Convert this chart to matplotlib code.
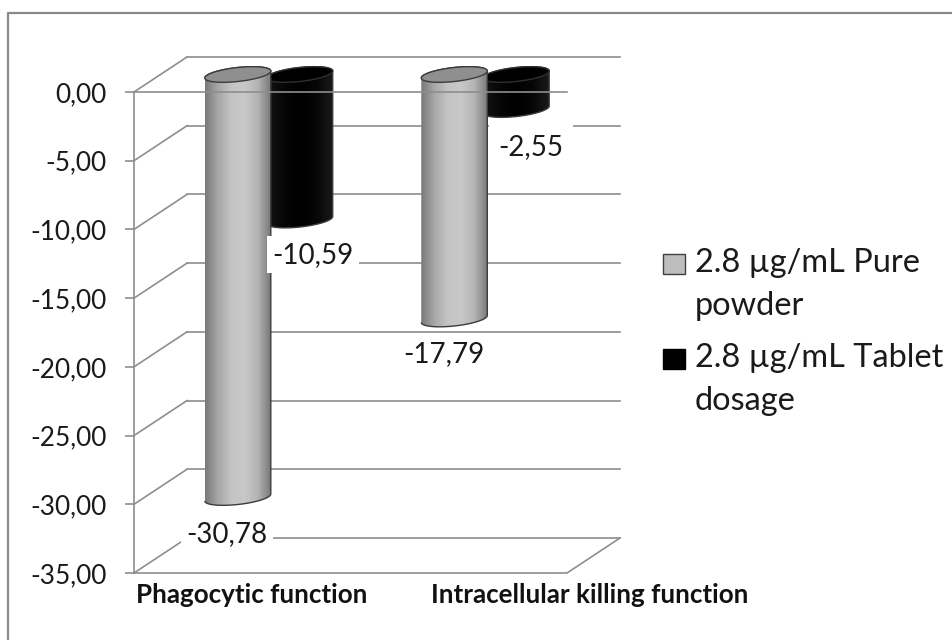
"""Cylinder column chart: change in phagocytic and killing function."""

import numpy as np
import matplotlib
matplotlib.use("Agg")
import matplotlib.pyplot as plt
from matplotlib.colors import LinearSegmentedColormap
from matplotlib.legend_handler import HandlerPatch
from matplotlib.lines import Line2D
from matplotlib.patches import Patch, PathPatch, Rectangle
from matplotlib.path import Path
from matplotlib.ticker import FuncFormatter


# ── Data ──────────────────────────────────────────────────────────────
CATEGORIES = ["Phagocytic function", "Intracellular killing function"]
SERIES_NAMES = ["2.8 µg/mL Pure\npowder", "2.8 µg/mL Tablet\ndosage"]
PURE_POWDER = [-30.78, -17.79]
TABLET = [-10.59, -2.55]
Y_TICKS = [0, -5, -10, -15, -20, -25, -30, -35]

# ── Style ─────────────────────────────────────────────────────────────
W, H = 952, 640
GRID = "#8e8e8e"
PX_X = 216.5      # pixels per category
PX_Y = 13.74      # pixels per y unit
DEPTH_X = 53 / PX_X
DEPTH_Y = 35 / PX_Y
BAR_HALF = 33 / PX_X
ELL_B = 7.0 / PX_Y
ELL_TILT = 3.5 / PX_Y
CATEGORY_LABEL_X = [0.545, 2.106]   # the labels sit off centre in the original

plt.rcParams["font.family"] = ["Lato", "DejaVu Sans"]

GRAY_CMAP = LinearSegmentedColormap.from_list(
    "gray_cyl", ["#787878", "#a8a8a8", "#c4c4c4", "#c8c8c8", "#b4b4b4", "#787878"])
BLACK_CMAP = LinearSegmentedColormap.from_list(
    "black_cyl", ["#161616", "#060606", "#000000", "#060606", "#1a1a1a"])


def cylinder(ax, cx, value, cmap, top_color, z):
    """Draw one cylinder running from the zero plane down to value."""
    top = DEPTH_Y / 2
    bot = value + DEPTH_Y / 2
    t = np.linspace(0, np.pi, 60)
    # lower front rim, left to right, then the top rim back again
    xs = np.concatenate([cx - BAR_HALF * np.cos(t), cx + BAR_HALF * np.cos(t)])
    ys = np.concatenate([
        bot - ELL_B * np.sin(t) - ELL_TILT * np.cos(t),
        top + ELL_B * np.sin(t) + ELL_TILT * np.cos(t),
    ])
    body = Path(np.column_stack([xs, ys]), closed=False)
    grad = np.linspace(0, 1, 256).reshape(1, -1)
    im = ax.imshow(grad, cmap=cmap, aspect="auto", zorder=z,
                   extent=[cx - BAR_HALF, cx + BAR_HALF, bot - 1, top + 1])
    outline = PathPatch(body, fc="none", ec="#3c3c3c", lw=1.0, zorder=z + 0.1,
                        clip_on=False)
    ax.add_patch(outline)
    # the cap stands above the axes box, so the image needs a wider clip box
    im.set_clip_box(ax.figure.bbox)
    im.set_clip_path(outline)

    s = np.linspace(0, 2 * np.pi, 120)
    ax.fill(cx + BAR_HALF * np.cos(s),
            top + ELL_B * np.sin(s) + ELL_TILT * np.cos(s),
            fc=top_color, ec="#3c3c3c" if top_color != "#000000" else "#303030",
            lw=1.0, zorder=z + 0.2, clip_on=False)


def first_line_box(legend, orig_handle, xdescent, ydescent, width, height, fontsize):
    """Legend swatch lined up with the first line of a two-line label."""
    return Rectangle((-xdescent, -ydescent + 16.5), 15.5, 14)


def main():
    fig = plt.figure(figsize=(W / 100, H / 100), dpi=100)
    # frame only shows on the top and left of the picture
    fig.add_artist(Line2D([8 / W, 8 / W, 1], [0, 1 - 13 / H, 1 - 13 / H],
                          color="#8a8a8a", lw=1.6))
    ax = fig.add_axes([134 / W, 1 - 573 / H, 433 / W, 481 / H])
    ax.patch.set_visible(False)

    # wall and floor lines
    for tick in Y_TICKS:
        ax.plot([0, DEPTH_X], [tick, tick + DEPTH_Y], color=GRID, lw=1.2,
                clip_on=False, zorder=1)
        ax.plot([DEPTH_X, 2 + DEPTH_X], [tick + DEPTH_Y] * 2, color=GRID, lw=1.2,
                clip_on=False, zorder=1)
    ax.plot([0, 2, 2 + DEPTH_X], [-35, -35, -35 + DEPTH_Y], color=GRID, lw=1.2,
            clip_on=False, zorder=1)

    centers = np.arange(len(CATEGORIES)) + 0.5 + DEPTH_X / 2
    for i, val in enumerate(TABLET):
        cylinder(ax, centers[i] + 0.143, val, BLACK_CMAP, "#000000", 3)
    for i, val in enumerate(PURE_POWDER):
        cylinder(ax, centers[i] - 0.143, val, GRAY_CMAP, "#8f8f8f", 4)

    # zero line runs in front of the cylinders
    ax.plot([0, 2], [0, 0], color=GRID, lw=1.2, zorder=6, clip_on=False)

    # value labels, offset in points from the bar end
    for cx, val, off, pad in [
        (centers[0] - 0.143, PURE_POWDER[0], (-8, -26), 4),
        (centers[1] - 0.143, PURE_POWDER[1], (-7.5, -25.5), 4),
        (centers[0] + 0.143, TABLET[0], (9.5, -25), 4),
        (centers[1] + 0.143, TABLET[1], (10.5, -27), 7),
    ]:
        ax.annotate(f"{val:.2f}".replace(".", ","), xy=(cx, val + DEPTH_Y / 2),
                    xytext=off, textcoords="offset points", ha="center",
                    va="center", fontsize=20, color="#1a1a1a",
                    bbox=dict(fc="white", ec="none", pad=pad), zorder=7)

    for x, name in zip(CATEGORY_LABEL_X, CATEGORIES):
        ax.annotate(name, xy=(x, -35), xytext=(0, -7.5), textcoords="offset points",
                    ha="center", va="top", fontweight="bold", fontsize=18.7,
                    color="#111111", annotation_clip=False)

    ax.set_yticks(Y_TICKS)
    ax.yaxis.set_major_formatter(FuncFormatter(lambda v, _: f"{v:.2f}".replace(".", ",")))
    ax.tick_params(axis="y", length=6.5, width=1.2, color=GRID, labelsize=18.8, pad=13,
                   labelcolor="#1a1a1a")
    ax.set_xticks([])
    ax.set_xlim(0, 2)
    ax.set_ylim(-35, 0)
    for side in ["top", "right", "bottom"]:
        ax.spines[side].set_visible(False)
    ax.spines["left"].set_color(GRID)
    ax.spines["left"].set_linewidth(1.2)

    handles = [Patch(fc="#bdbdbd", ec="#404040"), Patch(fc="#000000", ec="#000000")]
    leg = fig.legend(handles, SERIES_NAMES, loc="center left",
                     bbox_to_anchor=(634 / W, 1 - 332 / H), frameon=False, fontsize=23.4,
                     handlelength=0.68, handleheight=0.7, handletextpad=0.3,
                     labelspacing=0.69, labelcolor="#1a1a1a",
                     handler_map={Patch: HandlerPatch(patch_func=first_line_box)})
    for txt in leg.get_texts():
        txt.set_linespacing(1.53)

    fig.savefig("out.png", dpi=100)
    plt.close(fig)


if __name__ == "__main__":
    main()
